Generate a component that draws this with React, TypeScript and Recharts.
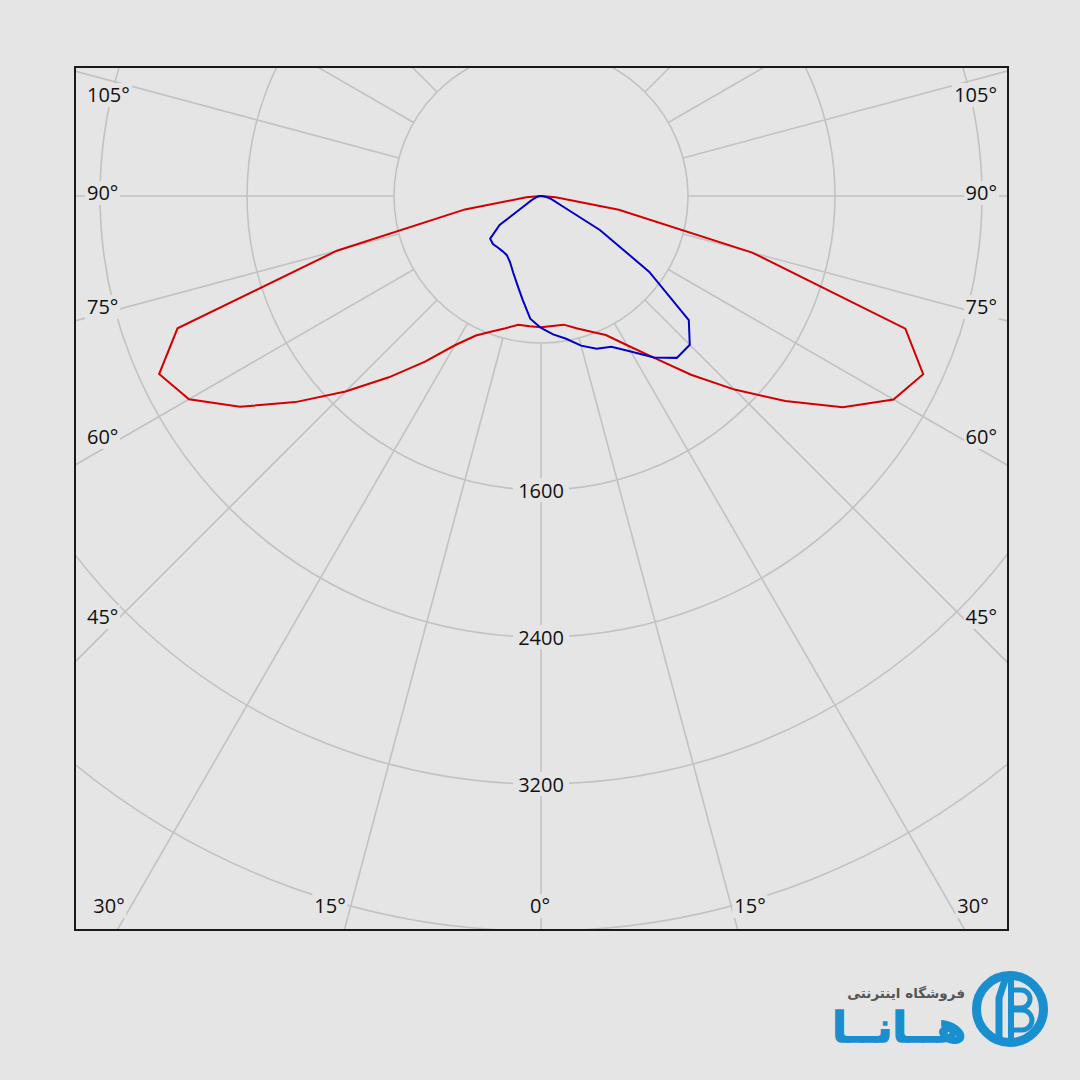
import React from 'react';
import { RadarChart, Radar, PolarGrid, PolarAngleAxis, PolarRadiusAxis } from 'recharts';

// gamma angles (deg from nadir), 5 deg steps
const gammaSteps = [0, 5, 10, 15, 20, 25, 30, 35, 40, 45, 50, 55, 60, 65, 70, 75, 80, 85, 90];

// C0-C180 plane (red), right and left halves
const redRight = [714, 710, 711, 745, 785, 835, 938, 1075, 1270, 1490, 1735, 2005, 2215, 2295, 2110, 1190, 430, 80, 0];
const redLeft = [714, 712, 712, 745, 785, 838, 938, 1100, 1288, 1505, 1745, 2000, 2212, 2293, 2105, 1150, 420, 80, 0];

// C90-C270 plane (blue)
const blueRight = [718, 756, 789, 843, 885, 906, 977, 1073, 1150, 1145, 1050, 718, 370, 122, 74, 52, 30, 12, 0];
const blueLeft = [718, 670, 574, 499, 443, 398, 372, 366, 366, 370, 361, 275, 100, 60, 40, 25, 15, 6, 0];

// grid
const spokeAngles = [0, 15, 30, 45, 60, 75, 90, 105, 120, 135, 150, 165, 180, 195, 210, 225, 240, 255, 270, 285, 300, 315, 330, 345];
const radiusLabels = [1600, 2400, 3200];
const sideLabels = ['105°', '90°', '75°', '60°', '45°'];
const bottomLabels = ['30°', '15°', '0°', '15°', '30°'];

const BG = '#e5e5e5';
const GRID = '#c2c2c2';
const LOGO = '#1a8fd0';
const FONT = '"Open Sans", "DejaVu Sans", sans-serif';

// full circle table, 0 at nadir, going to the right first
const curveData = Array.from({ length: 72 }, (_, i) => {
  const a = i * 5;
  let red = 0;
  let blue = 0;
  if (a <= 90) {
    const k = gammaSteps.indexOf(a);
    red = redRight[k];
    blue = blueRight[k];
  } else if (a >= 270) {
    const k = gammaSteps.indexOf(360 - a);
    red = redLeft[k];
    blue = blueLeft[k];
  }
  return { angle: String(a), red, blue };
});

const gridData = spokeAngles.map(a => ({ angle: String(a) }));

// chart geometry
const SIZE = 1800;
const C = 900;
const R = 882;
const BOX_L = 74;
const BOX_T = 66;
const BORDER = 2;
const CX_PAGE = 541;
const CY_PAGE = 196;
const chartLeft = CX_PAGE - (BOX_L + BORDER) - C;
const chartTop = CY_PAGE - (BOX_T + BORDER) - C;

const sideY = [95, 193, 307, 437, 617];
const bottomX = [109, 330, 540, 750, 973];

const RadiusTick = (props: any) => {
  const { x, y, payload } = props;
  if (!radiusLabels.includes(payload.value)) return <g />;
  return (
    <g>
      <rect x={x - 28} y={y - 12} width={56} height={24} fill={BG} />
      <text x={x} y={y} textAnchor="middle" dominantBaseline="central" fontFamily={FONT} fontSize={20} fill="#111">
        {payload.value}
      </text>
    </g>
  );
};

const labelStyle: React.CSSProperties = {
  position: 'absolute',
  fontFamily: FONT,
  fontSize: 20,
  lineHeight: '24px',
  color: '#111',
  background: BG,
  padding: '0 2px',
  whiteSpace: 'nowrap',
};

export default function App() {
  return (
    <div style={{ position: 'absolute', left: 0, top: 0, width: 1080, height: 1080, background: BG, overflow: 'hidden' }}>
      <div
        style={{
          position: 'absolute',
          left: BOX_L,
          top: BOX_T,
          width: 935,
          height: 865,
          border: `${BORDER}px solid #1a1a1a`,
          boxSizing: 'border-box',
          overflow: 'hidden',
        }}
      >
        {/* grid: rings and spokes starting at the first ring */}
        <div style={{ position: 'absolute', left: chartLeft, top: chartTop }}>
          <RadarChart width={SIZE} height={SIZE} cx={C} cy={C} innerRadius={147} outerRadius={R}
            startAngle={-90} endAngle={270} data={gridData} margin={{ top: 0, right: 0, bottom: 0, left: 0 }}>
            <PolarGrid gridType="circle" stroke={GRID} strokeWidth={1.6} strokeOpacity={1} />
            <PolarAngleAxis dataKey="angle" tick={false} axisLine={false} />
            <PolarRadiusAxis type="number" domain={[800, 4800]} tickCount={6} allowDataOverflow tick={false} axisLine={false} />
          </RadarChart>
        </div>
        {/* curves; the angle axis puts the first category one step past startAngle */}
        <div style={{ position: 'absolute', left: chartLeft, top: chartTop }}>
          <RadarChart width={SIZE} height={SIZE} cx={C} cy={C} innerRadius={0} outerRadius={R}
            startAngle={-95} endAngle={265} data={curveData} margin={{ top: 0, right: 0, bottom: 0, left: 0 }}>
            <PolarAngleAxis dataKey="angle" tick={false} axisLine={false} />
            <PolarRadiusAxis type="number" angle={-90} domain={[0, 4800]} tickCount={7} allowDataOverflow
              axisLine={false} tick={RadiusTick} />
            <Radar dataKey="red" stroke="#d40000" strokeWidth={2} fill="none" fillOpacity={0} dot={false} isAnimationActive={false} />
            <Radar dataKey="blue" stroke="#0000c8" strokeWidth={2} fill="none" fillOpacity={0} dot={false} isAnimationActive={false} />
          </RadarChart>
        </div>
      </div>

      {sideLabels.map((t, i) => (
        <React.Fragment key={t}>
          <span style={{ ...labelStyle, left: 85, top: sideY[i] - 12 }}>{t}</span>
          <span style={{ ...labelStyle, right: 1080 - 999, top: sideY[i] - 12 }}>{t}</span>
        </React.Fragment>
      ))}
      {bottomLabels.map((t, i) => (
        <span key={i} style={{ ...labelStyle, left: bottomX[i], top: 906 - 12, transform: 'translateX(-50%)' }}>{t}</span>
      ))}

      {/* watermark */}
      <svg width={1080} height={1080} style={{ position: 'absolute', left: 0, top: 0 }}>
        <text x={965} y={998} textAnchor="end" fontFamily='"DejaVu Sans", sans-serif' fontWeight="bold" fontSize={13.5} fill="#555">
          فروشگاه اینترنتی
        </text>
        <text x={966} y={1042} textAnchor="end" fontFamily='"DejaVu Sans", sans-serif' fontWeight="bold" fontSize={42} fill={LOGO}
          stroke={LOGO} strokeWidth={1.5}>
          هــانــا
        </text>
        <circle cx={1010} cy={1009} r={33.5} fill="none" stroke={LOGO} strokeWidth={9} />
        <path d="M999 1042 L999 998 L1006 977" fill="none" stroke={LOGO} strokeWidth={7} />
        <path d="M1011 973 L1011 1045" fill="none" stroke={LOGO} strokeWidth={6} />
        <path d="M1011 990 H1021 A9 9 0 0 1 1021 1008 H1011 M1011 1010 H1022 A10 10 0 0 1 1022 1030 H1011"
          fill="none" stroke={LOGO} strokeWidth={5} />
      </svg>
    </div>
  );
}
